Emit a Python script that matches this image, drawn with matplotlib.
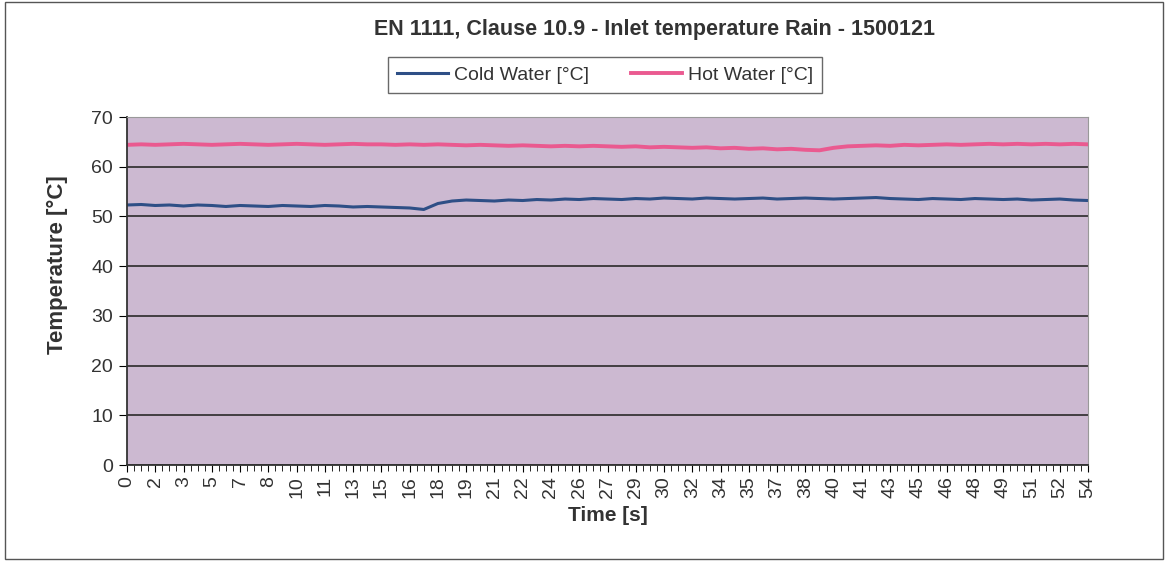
import matplotlib.pyplot as plt
import numpy as np
from matplotlib.patches import Rectangle

plt.rcParams['font.family'] = ['Liberation Sans', 'DejaVu Sans']

TITLE = "EN 1111, Clause 10.9 - Inlet temperature Rain - 1500121"

# time axis labels (category axis, one label every 4 samples)
TICK_LABELS = [0, 2, 3, 5, 7, 8, 10, 11, 13, 15, 16, 18, 19, 21, 22, 24, 26, 27,
               29, 30, 32, 34, 35, 37, 38, 40, 41, 43, 45, 46, 48, 49, 51, 52, 54]

# readings, every second sample
cold_water = [52.3, 52.4, 52.2, 52.3, 52.1, 52.3, 52.2, 52.0, 52.2, 52.1,
              52.0, 52.2, 52.1, 52.0, 52.2, 52.1, 51.9, 52.0, 51.9, 51.8,
              51.7, 51.4, 52.6, 53.1, 53.3, 53.2, 53.1, 53.3, 53.2, 53.4,
              53.3, 53.5, 53.4, 53.6, 53.5, 53.4, 53.6, 53.5, 53.7, 53.6,
              53.5, 53.7, 53.6, 53.5, 53.6, 53.7, 53.5, 53.6, 53.7, 53.6,
              53.5, 53.6, 53.7, 53.8, 53.6, 53.5, 53.4, 53.6, 53.5, 53.4,
              53.6, 53.5, 53.4, 53.5, 53.3, 53.4, 53.5, 53.3, 53.2]
hot_water = [64.4, 64.5, 64.4, 64.5, 64.6, 64.5, 64.4, 64.5, 64.6, 64.5,
             64.4, 64.5, 64.6, 64.5, 64.4, 64.5, 64.6, 64.5, 64.5, 64.4,
             64.5, 64.4, 64.5, 64.4, 64.3, 64.4, 64.3, 64.2, 64.3, 64.2,
             64.1, 64.2, 64.1, 64.2, 64.1, 64.0, 64.1, 63.9, 64.0, 63.9,
             63.8, 63.9, 63.7, 63.8, 63.6, 63.7, 63.5, 63.6, 63.4, 63.3,
             63.8, 64.1, 64.2, 64.3, 64.2, 64.4, 64.3, 64.4, 64.5, 64.4,
             64.5, 64.6, 64.5, 64.6, 64.5, 64.6, 64.5, 64.6, 64.5]

n_samples = 137
x = np.arange(0, n_samples, 2)

fig = plt.figure(figsize=(11.68, 5.64), dpi=100)
fig.patch.set_facecolor('white')
fig.add_artist(Rectangle((0.004, 0.008), 0.992, 0.988, transform=fig.transFigure,
                         fill=False, edgecolor='#555555', linewidth=1.0))

ax = fig.add_axes([127 / 1168, 1 - 465 / 564, 961 / 1168, 348 / 564])
ax.set_facecolor('#ccb9d1')

ax.plot(x, cold_water, color='#2e4f86', linewidth=2.2, label='Cold Water [°C]')
ax.plot(x, hot_water, color='#ea5a90', linewidth=2.8, label='Hot Water [°C]')

ax.set_xlim(0, n_samples - 1)
ax.set_ylim(0, 70)
ax.set_yticks(range(0, 71, 10))
ax.yaxis.grid(True, color='#2a2a2a', linewidth=1.2)
ax.set_axisbelow(True)

ax.set_xticks(range(0, n_samples, 4))
ax.set_xticklabels([str(v) for v in TICK_LABELS], rotation=90)
ax.set_xticks(range(0, n_samples), minor=True)
ax.tick_params(axis='x', which='major', length=5, direction='out', labelsize=14,
               pad=3, labelcolor='#333333')
ax.tick_params(axis='x', which='minor', length=4, direction='out')
ax.tick_params(axis='y', length=6, direction='out', labelsize=14, pad=4,
               labelcolor='#333333')

for side in ['left', 'bottom']:
    ax.spines[side].set_color('#333333')
    ax.spines[side].set_linewidth(1.3)
for side in ['top', 'right']:
    ax.spines[side].set_color('#999999')
    ax.spines[side].set_linewidth(0.8)

ax.set_xlabel('Time [s]', fontsize=15, fontweight='bold', color='#333333',
              va='center')
ax.xaxis.set_label_coords(0.5, -0.145)
ax.set_ylabel('Temperature [°C]', fontsize=16, fontweight='bold', color='#333333',
              va='center')
ax.yaxis.set_label_coords(-0.072, 0.575)

fig.text(655 / 1168, 1 - 30 / 564, TITLE, ha='center', va='center',
         fontsize=15.5, fontweight='bold', color='#333333')

leg = fig.legend(loc='center', bbox_to_anchor=(605 / 1168, 1 - 75 / 564), ncol=2,
                 fontsize=14, frameon=True, fancybox=False, edgecolor='#444444',
                 handlelength=2.6, columnspacing=2.2, borderpad=0.45,
                 handletextpad=0.3)
leg.get_frame().set_linewidth(1.0)
for t in leg.get_texts():
    t.set_color('#333333')

fig.savefig('out.png', dpi=100)
